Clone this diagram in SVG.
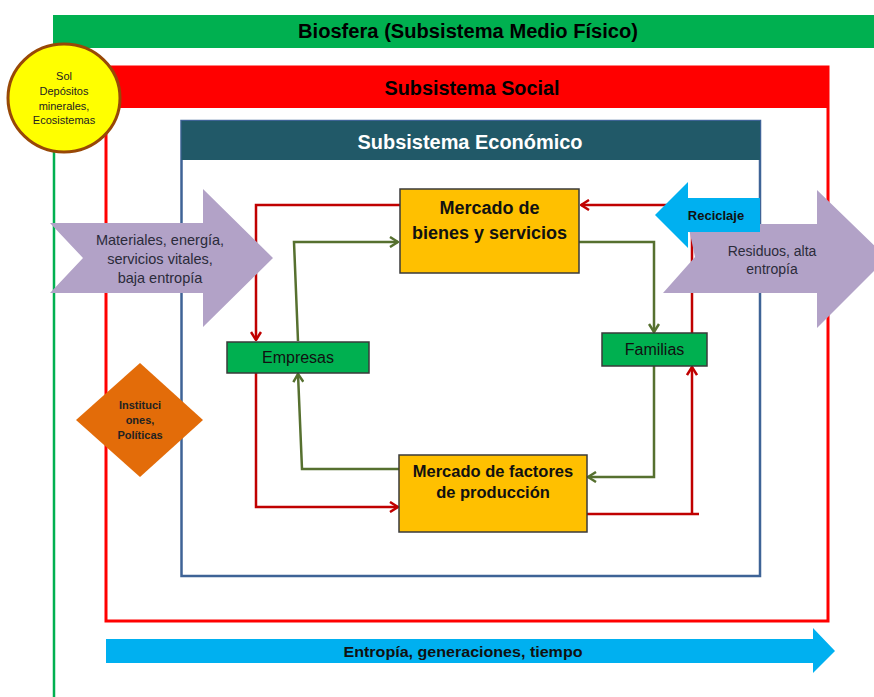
<svg xmlns="http://www.w3.org/2000/svg" width="874" height="697" viewBox="0 0 874 697">
<defs>
<style>
text{font-family:"Liberation Sans",Arial,sans-serif;text-anchor:middle}
.hdr{font-weight:bold;font-size:20px}
.box{stroke:#3a3a3a;stroke-width:1.5}
.mk{fill:#FFC000}
.ag{fill:#00B050}
.bt{font-weight:bold;font-size:18px;fill:#111}
.lt{font-size:16px;fill:#111}
.pt{font-size:14px;fill:#2b2b3a}
.cr{fill:none;stroke:#C00000;stroke-width:2.5}
.cg{fill:none;stroke:#56702F;stroke-width:2.5}
</style>
<marker id="ar" viewBox="0 0 10 12" refX="9" refY="6" markerWidth="10" markerHeight="12" markerUnits="userSpaceOnUse" orient="auto">
<path d="M1,1 L9,6 L1,11" fill="none" stroke="#C00000" stroke-width="2.5"/>
</marker>
<marker id="ag" viewBox="0 0 10 12" refX="9" refY="6" markerWidth="10" markerHeight="12" markerUnits="userSpaceOnUse" orient="auto">
<path d="M1,1 L9,6 L1,11" fill="none" stroke="#56702F" stroke-width="2.5"/>
</marker>
</defs>
<rect width="874" height="697" fill="#fff"/>

<g id="biosfera">
<rect x="53" y="15" width="821" height="33" fill="#00B050"/>
<line x1="54" y1="48" x2="54" y2="697" stroke="#00B050" stroke-width="2.5"/>
<text x="468" y="38" class="hdr" fill="#000" textLength="340" lengthAdjust="spacingAndGlyphs">Biosfera (Subsistema Medio Físico)</text>
</g>

<g id="social">
<rect x="106" y="67" width="722" height="554" fill="none" stroke="#FF0000" stroke-width="3"/>
<rect x="106" y="67" width="722" height="41" fill="#FF0000"/>
<text x="472" y="95" class="hdr" fill="#000" textLength="175" lengthAdjust="spacingAndGlyphs">Subsistema Social</text>
</g>

<g id="economico">
<rect x="181.5" y="121" width="578.5" height="455" fill="none" stroke="#3E6396" stroke-width="2.5"/>
<rect x="181.5" y="121" width="578.5" height="39" fill="#215968"/>
<text x="470" y="149" class="hdr" fill="#fff" textLength="225" lengthAdjust="spacingAndGlyphs">Subsistema Económico</text>
</g>

<g id="connectors">
<path class="cr" d="M692,333 V205 H581" marker-end="url(#ar)"/>
<path class="cr" d="M400,205 H256 V340" marker-end="url(#ar)"/>
<path class="cr" d="M256,373 V507 H398" marker-end="url(#ar)"/>
<path class="cr" d="M587,514 H699"/>
<path class="cr" d="M692,514 V367" marker-end="url(#ar)"/>
<path class="cg" d="M298,341 L294,242 H398" marker-end="url(#ag)"/>
<path class="cg" d="M579,242 H654 V332" marker-end="url(#ag)"/>
<path class="cg" d="M654,366 V477 H588" marker-end="url(#ag)"/>
<path class="cg" d="M399,469 H302 L298,374" marker-end="url(#ag)"/>
</g>

<g id="mercado-bienes">
<rect x="400" y="189" width="179" height="84" class="box mk"/>
<text x="489.5" y="214" class="bt">Mercado de</text>
<text x="489.5" y="239" class="bt">bienes y servicios</text>
</g>

<g id="mercado-factores">
<rect x="399" y="455" width="188" height="77" class="box mk"/>
<text x="493" y="477" class="bt" style="font-size:16.5px">Mercado de factores</text>
<text x="493" y="498" class="bt" style="font-size:16.5px">de producción</text>
</g>

<g id="empresas">
<rect x="227" y="342" width="142" height="31" class="box ag"/>
<text x="298" y="363" class="lt">Empresas</text>
</g>

<g id="familias">
<rect x="602" y="333" width="105" height="33" class="box ag"/>
<text x="654.5" y="355" class="lt">Familias</text>
</g>

<g id="materiales">
<polygon points="50,223 203,223 203,189 273,258 203,327 203,293 50,293 83,258" fill="#B2A2C7"/>
<text x="160" y="245" class="pt" style="font-size:14.5px">Materiales, energía,</text>
<text x="160" y="264" class="pt" style="font-size:14.5px">servicios vitales,</text>
<text x="160" y="283" class="pt" style="font-size:14.5px">baja entropía</text>
</g>

<g id="residuos">
<polygon points="688,224 817,224 817,190 887,258 817,328 817,293 663,293 695,257" fill="#B2A2C7"/>
<text x="772" y="256" class="pt">Residuos, alta</text>
<text x="772" y="274" class="pt">entropía</text>
</g>

<g id="reciclaje">
<polygon points="655,215 688,182 688,198 760,198 760,232 688,232 688,248" fill="#00B0F0"/>
<text x="716" y="220" font-weight="bold" font-size="13" fill="#111">Reciclaje</text>
</g>

<g id="instituciones">
<polygon points="140,363 203,420 140,477 76,420" fill="#E36C09"/>
<text x="140" y="409" font-weight="bold" font-size="11" fill="#222">Instituci</text>
<text x="140" y="424" font-weight="bold" font-size="11" fill="#222">ones,</text>
<text x="140" y="439" font-weight="bold" font-size="11" fill="#222">Políticas</text>
</g>

<g id="sol">
<ellipse cx="64" cy="98" rx="56" ry="54" fill="#FFFF00" stroke="#984807" stroke-width="3"/>
<text x="64" y="80" font-size="11" fill="#222">Sol</text>
<text x="64" y="95" font-size="11" fill="#222">Depósitos</text>
<text x="64" y="110" font-size="11" fill="#222">minerales,</text>
<text x="64" y="124" font-size="11" fill="#222">Ecosistemas</text>
</g>

<g id="entropia">
<polygon points="106,639 813,639 813,628 835,651 813,673 813,663 106,663" fill="#00B0F0"/>
<text x="463" y="657" font-weight="bold" font-size="15" fill="#111" textLength="239" lengthAdjust="spacingAndGlyphs">Entropía, generaciones, tiempo</text>
</g>
</svg>
